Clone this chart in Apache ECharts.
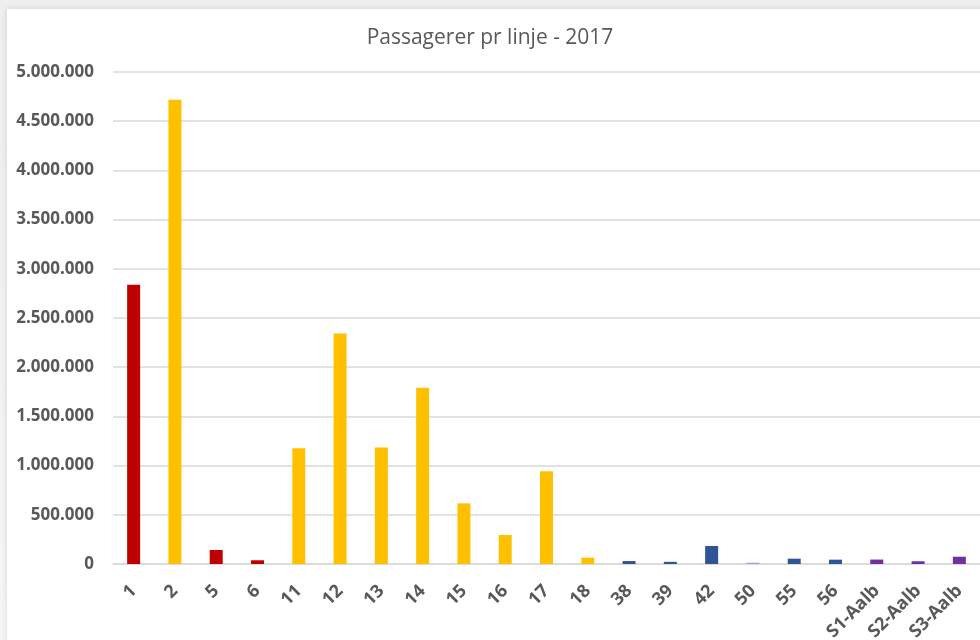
<!DOCTYPE html>
<html>
<head>
<meta charset="utf-8">
<script src="https://cdn.jsdelivr.net/npm/echarts@6/dist/echarts.min.js"></script>
<style>
html,body{margin:0;padding:0;background:#f3f3f3;}
#wrap{position:relative;width:980px;height:640px;overflow:hidden;background:linear-gradient(#eeeeee,#f6f6f6);}
#card{position:absolute;left:7px;top:9px;width:1000px;height:660px;background:#fff;box-shadow:0 0 6px rgba(0,0,0,0.12);}
#chart{position:absolute;left:0;top:0;width:980px;height:640px;}
</style>
</head>
<body>
<div id="wrap"><div id="card"></div><div id="chart"></div></div>
<script>
const titleText = 'Passagerer pr linje - 2017';
const categories = ['1','2','5','6','11','12','13','14','15','16','17','18','38','39','42','50','55','56','S1-Aalb','S2-Aalb','S3-Aalb'];
const passengers = [2837000,4718000,142000,38000,1176000,2343000,1183000,1792000,616000,295000,943000,64000,30000,22000,183000,13000,54000,44000,45000,28000,74000];
const barColors = ['#C00000','#FFC000','#C00000','#C00000','#FFC000','#FFC000','#FFC000','#FFC000','#FFC000','#FFC000','#FFC000','#FFC000','#2F5597','#2F5597','#2F5597','#8FAADC','#2F5597','#2F5597','#7030A0','#7030A0','#7030A0'];
const yTicks = [0,500000,1000000,1500000,2000000,2500000,3000000,3500000,4000000,4500000,5000000];

function fmt(v){return String(v).replace(/\B(?=(\d{3})+(?!\d))/g,'.');}

const chart = echarts.init(document.getElementById('chart'), null, {renderer:'canvas'});
chart.setOption({
  backgroundColor:'transparent',
  animation:false,
  title:{text:titleText,left:'center',top:23,textStyle:{fontFamily:'Open Sans',fontSize:21,fontWeight:'normal',color:'#595959'}},
  grid:{left:113,right:0,top:72,bottom:76,containLabel:false,outerBoundsMode:'none'},
  xAxis:{type:'category',data:categories,
    axisLine:{lineStyle:{color:'#d9d9d9',width:1.5}},
    axisTick:{show:false},
    axisLabel:{rotate:45,margin:24,interval:0,fontFamily:'Open Sans',fontWeight:'bold',fontSize:18,color:'#595959'}},
  yAxis:{type:'value',min:yTicks[0],max:yTicks[yTicks.length-1],interval:500000,
    axisLine:{show:false},axisTick:{show:false},
    splitLine:{lineStyle:{color:'#d9d9d9',width:1.5}},
    axisLabel:{margin:19,formatter:fmt,fontFamily:'Open Sans',fontWeight:'bold',fontSize:17,color:'#595959'}},
  series:[{type:'bar',barWidth:13,
    data:passengers.map((v,i)=>({value:v,itemStyle:{color:barColors[i]}}))}]
});
</script>
</body>
</html>
